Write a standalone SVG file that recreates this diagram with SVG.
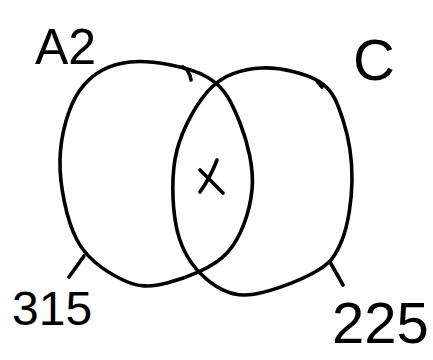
<svg xmlns="http://www.w3.org/2000/svg" width="433" height="360" viewBox="0 0 433 360">
<style>
.ink{fill:none;stroke:#000;stroke-width:3.6;stroke-linecap:round;stroke-linejoin:round}
.lbl{font-family:"Liberation Sans","DejaVu Sans",sans-serif;fill:#000}
</style>
<rect width="433" height="360" fill="#fff"/>
<g id="setA2">
<path class="ink" d="M130,62 C151.2,59.8 188.7,66.8 207,77 C225.3,87.2 232.5,104.2 240,123 C247.5,141.8 254.2,168.3 252,190 C249.8,211.7 241.2,237.5 227,253 C212.8,268.5 184.3,278.5 167,283 C149.7,287.5 138,287.2 123,280 C108,272.8 87.5,260 77,240 C66.5,220 59.5,185 60,160 C60.5,135 68.3,106.3 80,90 C91.7,73.7 108.8,64.2 130,62 Z"/>
<path class="ink" d="M183,67 Q190,71 191,80" stroke-width="2"/>
<text class="lbl" x="35" y="64" font-size="50">A2</text>
</g>
<g id="setC">
<path class="ink" d="M262,68 C280,67.2 306.5,73.3 320,82 C333.5,90.7 337.7,103.7 343,120 C348.3,136.3 352.2,160 352,180 C351.8,200 348.2,224.7 342,240 C335.8,255.3 331.2,262.8 315,272 C298.8,281.2 264.2,294.8 245,295 C225.8,295.2 211.5,284.7 200,273 C188.5,261.3 179.8,245.5 176,225 C172.2,204.5 171,173 177,150 C183,127 197.8,100.7 212,87 C226.2,73.3 244,68.8 262,68 Z"/>
<path class="ink" d="M317,81 L322,87" stroke-width="2"/>
<text class="lbl" x="353" y="80" font-size="58">C</text>
</g>
<g id="intersection">
<path class="ink" d="M217,160 Q210,178 200,192"/>
<path class="ink" d="M200,170 L223,193"/>
</g>
<g id="connectors">
<path class="ink" d="M84,256 L69,277"/>
<path class="ink" d="M330,262 L343,285"/>
</g>
<g id="count315">
<text class="lbl" x="12" y="325" font-size="48">315</text>
</g>
<g id="count225">
<text class="lbl" x="332" y="343" font-size="58">225</text>
</g>
</svg>
